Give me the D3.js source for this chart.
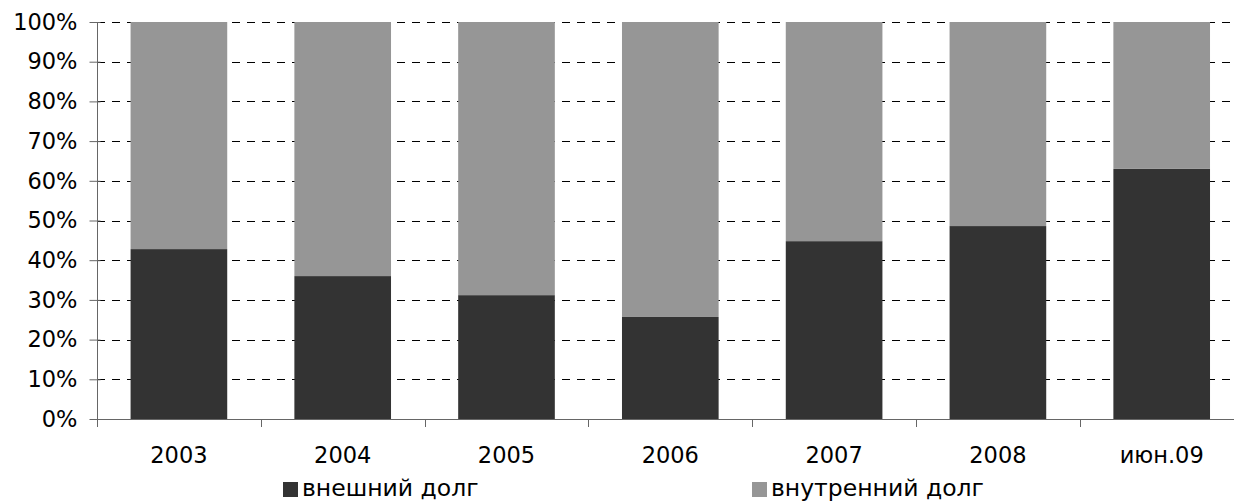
<!DOCTYPE html>
<html>
<head>
<meta charset="utf-8">
<script src="https://cdn.jsdelivr.net/npm/d3@7"></script>
<style>
  html, body { margin: 0; padding: 0; background: #fff; }
  svg { display: block; font-family: "DejaVu Sans", Verdana, sans-serif; }
</style>
</head>
<body>
<svg id="chart" width="1234" height="501"></svg>
<script>
// Структура государственного долга, доля в общем объёме
const categories = ["2003", "2004", "2005", "2006", "2007", "2008", "июн.09"];
const external = [42.8, 36.0, 31.2, 25.7, 44.8, 48.6, 63.0];   // внешний долг, %
const internal = external.map(v => 100 - v);                   // внутренний долг, %
const seriesNames = ["внешний долг", "внутренний долг"];
const seriesColors = ["#333333", "#969696"];
const yTicks = [0, 10, 20, 30, 40, 50, 60, 70, 80, 90, 100];

(function () {
  const svg = d3.select("#chart");
  const plotLeft = 97, plotTop = 22, plotBottom = 419;
  const step = 163.8;
  const plotRight = plotLeft + step * categories.length;

  const x = d3.scaleBand().domain(categories).range([plotLeft, plotRight])
    .paddingInner(0.41).paddingOuter(0.205);
  const y = d3.scaleLinear().domain([0, 100]).range([plotBottom, plotTop]);

  // dashed gridlines
  svg.append("g").selectAll("line").data(yTicks.filter(d => d > 0)).join("line")
    .attr("x1", plotLeft).attr("x2", plotRight)
    .attr("y1", d => Math.round(y(d)) + 0.5).attr("y2", d => Math.round(y(d)) + 0.5)
    .attr("stroke", "#000").attr("stroke-width", 1)
    .attr("stroke-dasharray", "8,7");

  // stacked bars
  const rows = categories.map((c, i) => ({ cat: c, ext: external[i], int: internal[i] }));
  const stack = d3.stack().keys(["ext", "int"])(rows);
  svg.append("g").selectAll("g").data(stack).join("g")
    .attr("fill", (d, i) => seriesColors[i])
    .selectAll("rect").data(d => d).join("rect")
    .attr("x", d => x(d.data.cat))
    .attr("width", x.bandwidth())
    .attr("y", d => y(d[1]))
    .attr("height", d => y(d[0]) - y(d[1]));

  // y axis
  const yAxis = d3.axisLeft(y).tickValues(yTicks).tickFormat(d => d + "%")
    .tickSizeInner(8).tickSizeOuter(0).tickPadding(12);
  const gy = svg.append("g").attr("transform", `translate(${plotLeft + 0.5},0)`).call(yAxis);
  gy.select(".domain").attr("stroke", "#666").attr("d", `M0,${plotTop}V${plotBottom + 8}`);
  gy.selectAll(".tick line").attr("stroke", "#666").attr("x2", -8).attr("x1", 3);
  gy.selectAll(".tick text").attr("font-size", 22.5).attr("fill", "#000")
    .attr("font-family", '"DejaVu Sans", Verdana, sans-serif');

  // x axis baseline with boundary ticks
  const gx = svg.append("g");
  gx.append("line").attr("x1", plotLeft).attr("x2", plotRight)
    .attr("y1", plotBottom + 0.5).attr("y2", plotBottom + 0.5).attr("stroke", "#666");
  const bounds = d3.range(1, categories.length + 1).map(i => plotLeft + step * i);
  gx.selectAll("line.b").data(bounds).join("line").attr("class", "b")
    .attr("x1", d => Math.round(d) + 0.5).attr("x2", d => Math.round(d) + 0.5)
    .attr("y1", plotBottom).attr("y2", plotBottom + 8).attr("stroke", "#666");
  gx.selectAll("text").data(categories).join("text")
    .attr("x", d => x(d) + x.bandwidth() / 2)
    .attr("y", 463)
    .attr("text-anchor", "middle")
    .attr("font-size", 22.5)
    .text(d => d);

  // legend
  const legendX = [283, 752];
  const lg = svg.append("g").selectAll("g").data(seriesNames).join("g")
    .attr("transform", (d, i) => `translate(${legendX[i]},0)`);
  lg.append("rect").attr("x", 0).attr("y", 482).attr("width", 15).attr("height", 15)
    .attr("fill", (d, i) => seriesColors[i]);
  lg.append("text").attr("x", 19).attr("y", 496).attr("font-size", 23.5).text(d => d);
})();
</script>
</body>
</html>
